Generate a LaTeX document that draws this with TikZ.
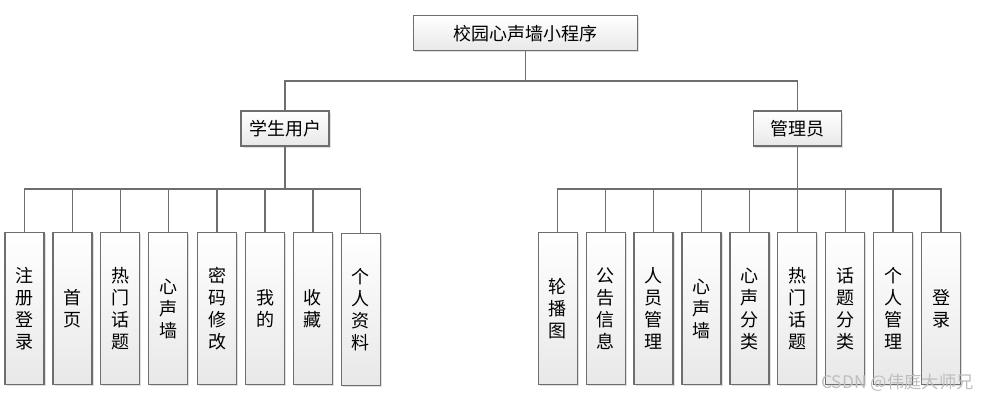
\documentclass[tikz,border=0pt]{standalone}
\usepackage{fontspec}
\setmainfont{Noto Sans CJK SC}
\usetikzlibrary{shadows}

\definecolor{boxline}{RGB}{110,110,110}
\definecolor{wmark}{RGB}{190,190,190}

\tikzset{every picture/.style={line width=1pt}}
\tikzset{
  box/.style={draw=boxline, top color=white, bottom color=black!9,
    inner sep=0pt, align=center,
    drop shadow={shadow xshift=1.2pt, shadow yshift=-1.2pt, opacity=0.25},
    font=\fontsize{13.5}{16.5}\selectfont},
  headbox/.style={box, minimum width=224*0.75pt, minimum height=35*0.75pt},
  rolebox/.style={box, minimum width=88*0.75pt, minimum height=35*0.75pt},
  leafbox/.style={box, minimum width=39*0.75pt, minimum height=152*0.75pt},
  link/.style={draw=boxline}
}

\begin{document}
\begin{tikzpicture}[x=0.75pt,y=0.75pt,yscale=-1,xscale=1]
    \useasboundingbox (0,0) rectangle (984,401);

    %Shape: Rectangle [root]
    \node (app) [headbox] at (525.5,33.3) {校园心声墙小程序};
    %Shape: Rectangle [roles]
    \node (stu) [rolebox] at (285,128.5) {学生用户};
    \node (mgr) [rolebox] at (797.5,128.5) {管理员};

    %Shape: Rectangle [student leaves]
    \node (s1) [leafbox] at (24.5,308.5) {注\\册\\登\\录};
    \node (s2) [leafbox] at (72.4,308.5) {首\\页};
    \node (s3) [leafbox] at (120.3,308.5) {热\\门\\话\\题};
    \node (s4) [leafbox] at (168.2,308.5) {心\\声\\墙};
    \node (s5) [leafbox] at (217.1,308.5) {密\\码\\修\\改};
    \node (s6) [leafbox] at (265,308.5) {我\\的};
    \node (s7) [leafbox] at (312.9,308.5) {收\\藏};
    \node (s8) [leafbox] at (360.8,309.5) {个\\人\\资\\料};

    %Shape: Rectangle [manager leaves]
    \node (m1) [leafbox] at (557.8,308.5) {轮\\播\\图};
    \node (m2) [leafbox] at (605.7,308.5) {公\\告\\信\\息};
    \node (m3) [leafbox] at (653.6,308.5) {人\\员\\管\\理};
    \node (m4) [leafbox] at (701.5,308.5) {心\\声\\墙};
    \node (m5) [leafbox] at (749.4,308.5) {心\\声\\分\\类};
    \node (m6) [leafbox] at (797.3,308.5) {热\\门\\话\\题};
    \node (m7) [leafbox] at (845.2,308.5) {话\\题\\分\\类};
    \node (m8) [leafbox] at (893.1,308.5) {个\\人\\管\\理};
    \node (m9) [leafbox] at (941,308.5) {登\\录};

    %Straight Lines [bus points]
    \coordinate (top) at (525.5,81);
    \coordinate (sbus) at (285,189);
    \coordinate (mbus) at (797.5,189);

    %Straight Lines [root to roles]
    \draw [link] (app.south) -- (top) -| (stu.north);
    \draw [link] (top) -| (mgr.north);

    %Straight Lines [student to leaves]
    \draw [link] (stu.south) -- (sbus);
    \draw [link] (sbus) -| (s1.north);
    \draw [link] (sbus) -| (s2.north);
    \draw [link] (sbus) -| (s3.north);
    \draw [link] (sbus) -| (s4.north);
    \draw [link] (sbus) -| (s5.north);
    \draw [link] (sbus) -| (s6.north);
    \draw [link] (sbus) -| (s7.north);
    \draw [link] (sbus) -| (s8.north);

    %Straight Lines [manager to leaves]
    \draw [link] (mgr.south) -- (mbus);
    \draw [link] (mbus) -| (m1.north);
    \draw [link] (mbus) -| (m2.north);
    \draw [link] (mbus) -| (m3.north);
    \draw [link] (mbus) -| (m4.north);
    \draw [link] (mbus) -| (m5.north);
    \draw [link] (mbus) -| (m6.north);
    \draw [link] (mbus) -| (m7.north);
    \draw [link] (mbus) -| (m8.north);
    \draw [link] (mbus) -| (m9.north);

    % Text Node
    \node (mark) [text=wmark, font=\fontsize{13}{14}\selectfont, inner sep=0pt] at (897.5,383) {CSDN @伟庭大师兄};

\end{tikzpicture}
\end{document}
